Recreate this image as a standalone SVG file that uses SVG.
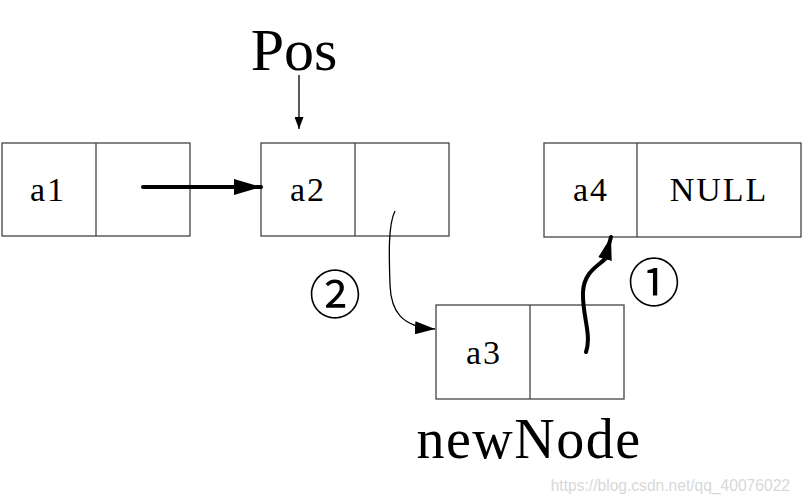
<svg xmlns="http://www.w3.org/2000/svg" width="802" height="502" viewBox="0 0 802 502">
<style>
.box{fill:#fff;stroke:#444;stroke-width:1.3}
.t{font-family:"Liberation Serif","Times New Roman",serif;fill:#000}
.lab{font-size:34px;text-anchor:middle;letter-spacing:2px}
.thick{fill:none;stroke:#000;stroke-width:4;stroke-linecap:round}
.thin{fill:none;stroke:#000;stroke-width:1.3}
.circ{font-family:"Noto Sans CJK SC","DejaVu Sans",sans-serif;font-size:52px;text-anchor:middle;fill:#000}
</style>
<defs>
<marker id="ah" viewBox="0 0 10 10" refX="10" refY="5" markerWidth="27" markerHeight="16" markerUnits="userSpaceOnUse" preserveAspectRatio="none" orient="auto">
<path d="M0,0 L10,5 L0,10 z" fill="#000"/>
</marker>
<marker id="ah1" viewBox="0 0 10 10" refX="10" refY="5" markerWidth="23" markerHeight="14" markerUnits="userSpaceOnUse" preserveAspectRatio="none" orient="auto">
<path d="M0,0 L10,5 L0,10 z" fill="#000"/>
</marker>
<marker id="ah2" viewBox="0 0 10 10" refX="10" refY="5" markerWidth="20" markerHeight="13" markerUnits="userSpaceOnUse" preserveAspectRatio="none" orient="auto">
<path d="M0,0 L10,5 L0,10 z" fill="#000"/>
</marker>
<marker id="ahs" viewBox="0 0 10 10" refX="10" refY="5" markerWidth="12" markerHeight="9" markerUnits="userSpaceOnUse" preserveAspectRatio="none" orient="auto">
<path d="M0,0 L10,5 L0,10 z" fill="#000"/>
</marker>
</defs>
<rect width="802" height="502" fill="#fff"/>
<g id="node-a1">
<rect class="box" x="2" y="143" width="188" height="93"/>
<line class="box" x1="96" y1="143" x2="96" y2="236"/>
<text class="t lab" x="48" y="201">a1</text>
</g>
<g id="node-a2">
<rect class="box" x="261" y="143" width="188" height="93"/>
<line class="box" x1="355" y1="143" x2="355" y2="236"/>
<text class="t lab" x="308" y="201">a2</text>
</g>
<g id="node-a4">
<rect class="box" x="544" y="143" width="257" height="94"/>
<line class="box" x1="637" y1="143" x2="637" y2="237"/>
<text class="t lab" x="591" y="201">a4</text>
<text class="t lab" x="719" y="201">NULL</text>
</g>
<g id="node-a3">
<rect class="box" x="436" y="305" width="188" height="94"/>
<line class="box" x1="530" y1="305" x2="530" y2="399"/>
<text class="t lab" x="484" y="364">a3</text>
</g>
<g id="labels">
<text class="t" x="294" y="70" font-size="60" text-anchor="middle">Pos</text>
<text class="t" x="529" y="458" font-size="56" letter-spacing="1.5" text-anchor="middle">newNode</text>
<text class="circ" x="335" y="314">②</text>
<text class="circ" x="654" y="302">①</text>
<text x="790" y="491" font-family="Liberation Sans, Arial, sans-serif" font-size="15.6" fill="#d8d8d8" text-anchor="end">https://blog.csdn.net/qq_40076022</text>
</g>
<g id="connectors">
<path class="thick" d="M143,187 L261,187" marker-end="url(#ah)"/>
<path class="thin" d="M299,75 L299,129" marker-end="url(#ahs)"/>
<path class="thin" d="M395,211 C388,225 389,255 390,285 C391,312 402,327 435,329" stroke-width="2.3" marker-end="url(#ah2)"/>
<path class="thick" d="M586,352 C592,335 582,315 583,292 C584,272 598,266 605,259 L611,237" stroke-width="3.5" marker-end="url(#ah1)"/>
</g>
</svg>
